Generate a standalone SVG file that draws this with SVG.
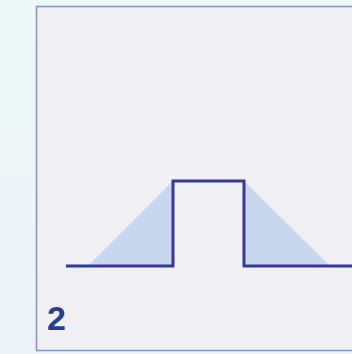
<svg xmlns="http://www.w3.org/2000/svg" width="352" height="354" viewBox="0 0 352 354">
<defs>
<linearGradient id="bg" x1="0" y1="0" x2="0" y2="1">
<stop offset="0" stop-color="#eef8f8"/>
<stop offset="1" stop-color="#edf3f8"/>
</linearGradient>
<style>
.tri{fill:#c9d7ee}
.step{fill:none;stroke:#35399a;stroke-width:3;stroke-linejoin:miter}
.lbl{font-family:"Liberation Sans",Arial,sans-serif;font-weight:bold;font-size:34px;fill:#263f8e}
</style>
</defs>
<rect x="0" y="0" width="352" height="354" fill="url(#bg)"/>
<g id="panel">
<rect x="36.5" y="6.5" width="318" height="344" fill="#f0f0f4" stroke="#8797cb" stroke-width="1.6"/>
</g>
<g id="shading">
<polygon class="tri" points="88,266 173,181 173,266"/>
<polygon class="tri" points="244,181 330,266 244,266"/>
</g>
<g id="connectors">
<polyline class="step" points="66,266 173,266 173,181 244,181 244,266 352,266"/>
</g>
<g id="label">
<text class="lbl" x="47" y="330">2</text>
</g>
</svg>
